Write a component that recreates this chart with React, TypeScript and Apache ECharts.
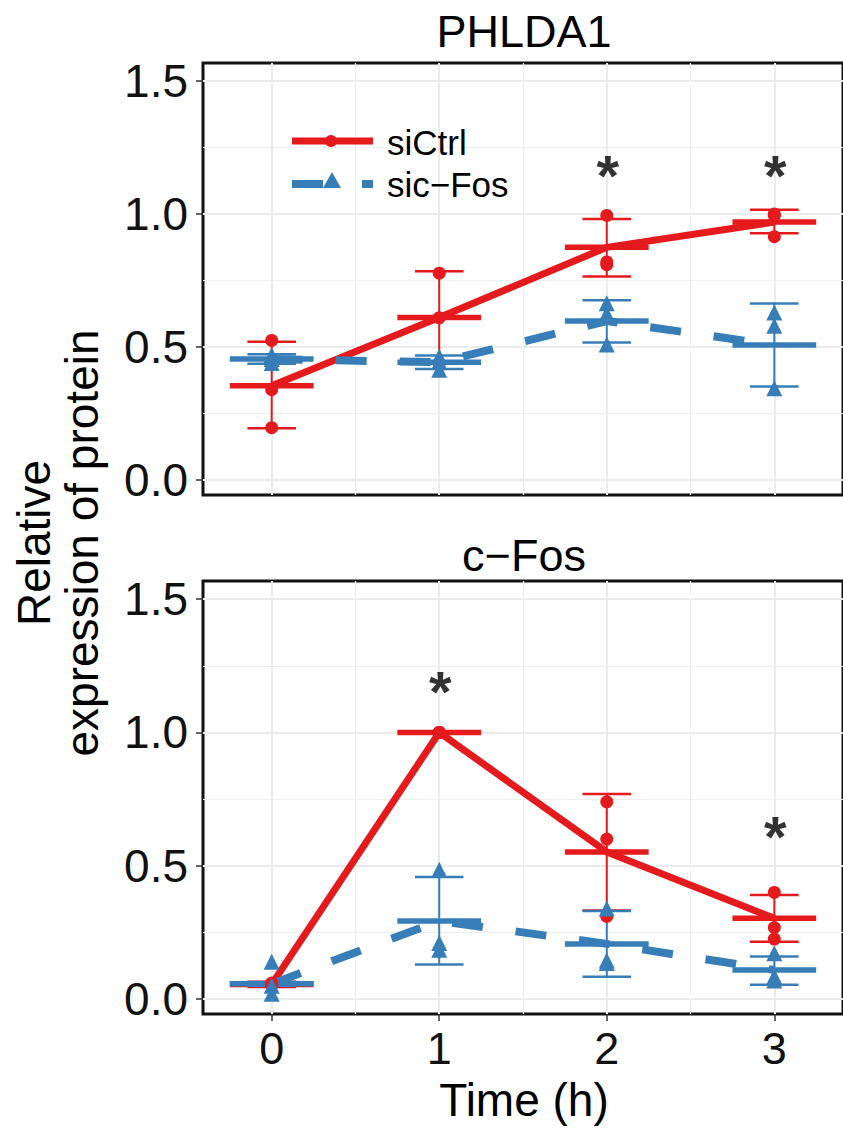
import React, { useEffect, useRef } from 'react';
import * as echarts from 'echarts';

// ---------- data ----------
const times = [0, 1, 2, 3];
const panelTitles = ['PHLDA1', 'c−Fos'];
const seriesNames = ['siCtrl', 'sic−Fos'];
const yTickValues = [0, 0.5, 1, 1.5];
const yMinorValues = [0.25, 0.75, 1.25];
const xTickValues = [0, 1, 2, 3];
const xMinorValues = [0.5, 1.5, 2.5];

// PHLDA1 panel
const phlSiCtrlPoints = [[0.525, 0.34, 0.197], [0.778, 0.61, 0.44], [0.995, 0.81, 0.82], [0.995, 0.915, 1.0]];
const phlSiCtrlMean = [0.355, 0.611, 0.875, 0.97];
const phlSiCtrlLow = [0.195, 0.437, 0.765, 0.928];
const phlSiCtrlHigh = [0.52, 0.785, 0.982, 1.016];
const phlSicFosPoints = [[0.47, 0.455, 0.44], [0.465, 0.445, 0.415], [0.665, 0.625, 0.51], [0.63, 0.58, 0.345]];
const phlSicFosMean = [0.455, 0.443, 0.598, 0.508];
const phlSicFosLow = [0.437, 0.418, 0.517, 0.352];
const phlSicFosHigh = [0.473, 0.468, 0.676, 0.664];
const phlStars = [[2, 1.177], [3, 1.177]];

// c-Fos panel
const fosSiCtrlPoints = [[0.06, 0.05, 0.055], [1, 1, 1], [0.74, 0.6, 0.31], [0.4, 0.268, 0.225]];
const fosSiCtrlMean = [0.055, 1.0, 0.552, 0.303];
const fosSiCtrlLow = [0.045, 1.0, 0.332, 0.215];
const fosSiCtrlHigh = [0.065, 1.0, 0.769, 0.39];
const fosSicFosPoints = [[0.14, 0.05, 0.02], [0.485, 0.21, 0.185], [0.34, 0.145, 0.135], [0.172, 0.085, 0.07]];
const fosSicFosMean = [0.057, 0.293, 0.207, 0.109];
const fosSicFosLow = [0.05, 0.13, 0.084, 0.054];
const fosSicFosHigh = [0.064, 0.458, 0.33, 0.16];
const fosStars = [[1, 1.184], [3, 0.639]];

// ---------- style ----------
const RED = '#E41A1C';
const BLUE = '#377EB8';
const FONT = '"Liberation Sans", Arial, Helvetica, sans-serif';
const X_MIN = -0.41;
const X_MAX = 3.41;
const Y_MIN = -0.056;
const Y_MAX = 1.568;
const CAP_HALF = 0.145;
const BAR_HALF = 0.25;

type Group = { points: number[][]; mean: number[]; low: number[]; high: number[] };

const panels: { ctrl: Group; fos: Group; stars: number[][] }[] = [
  {
    ctrl: { points: phlSiCtrlPoints, mean: phlSiCtrlMean, low: phlSiCtrlLow, high: phlSiCtrlHigh },
    fos: { points: phlSicFosPoints, mean: phlSicFosMean, low: phlSicFosLow, high: phlSicFosHigh },
    stars: phlStars,
  },
  {
    ctrl: { points: fosSiCtrlPoints, mean: fosSiCtrlMean, low: fosSiCtrlLow, high: fosSiCtrlHigh },
    fos: { points: fosSicFosPoints, mean: fosSicFosMean, low: fosSicFosLow, high: fosSicFosHigh },
    stars: fosStars,
  },
];

function errSeries(g: Group, color: string, xi: number, yi: number, name: string) {
  return {
    type: 'custom',
    name,
    xAxisIndex: xi,
    yAxisIndex: yi,
    z: 2,
    data: times.map((t, i) => [t, g.low[i], g.high[i], g.mean[i]]),
    renderItem: (params: any, api: any) => {
      const x = api.value(0);
      const lo = api.value(1);
      const hi = api.value(2);
      const m = api.value(3);
      const pLo = api.coord([x, lo]);
      const pHi = api.coord([x, hi]);
      const pM = api.coord([x, m]);
      const cL = api.coord([x - CAP_HALF, lo])[0];
      const cR = api.coord([x + CAP_HALF, lo])[0];
      const bL = api.coord([x - BAR_HALF, m])[0];
      const bR = api.coord([x + BAR_HALF, m])[0];
      const thin = { stroke: color, lineWidth: 2 };
      const cap = { stroke: color, lineWidth: 2.5 };
      return {
        type: 'group',
        children: [
          { type: 'line', shape: { x1: pLo[0], y1: pLo[1], x2: pHi[0], y2: pHi[1] }, style: thin },
          { type: 'line', shape: { x1: cL, y1: pLo[1], x2: cR, y2: pLo[1] }, style: cap },
          { type: 'line', shape: { x1: cL, y1: pHi[1], x2: cR, y2: pHi[1] }, style: cap },
          { type: 'line', shape: { x1: bL, y1: pM[1], x2: bR, y2: pM[1] }, style: { stroke: color, lineWidth: 5.5 } },
        ],
      };
    },
  };
}

function lineSeries(g: Group, color: string, dashed: boolean, xi: number, yi: number, name: string) {
  return {
    type: 'line',
    name,
    xAxisIndex: xi,
    yAxisIndex: yi,
    z: 3,
    symbol: 'none',
    data: times.map((t, i) => [t, g.mean[i]]),
    lineStyle: dashed
      ? { color, width: 8, type: [31, 33], join: 'round' }
      : { color, width: 7, join: 'round' },
  };
}

function pointSeries(g: Group, color: string, symbol: string, size: number, xi: number, yi: number, name: string) {
  const data: number[][] = [];
  times.forEach((t, i) => g.points[i].forEach((v) => data.push([t, v])));
  return {
    type: 'scatter',
    name,
    xAxisIndex: xi,
    yAxisIndex: yi,
    z: 4,
    symbol,
    symbolSize: size,
    itemStyle: { color, opacity: 1 },
    data,
  };
}

function starSeries(stars: number[][], xi: number, yi: number) {
  return {
    type: 'scatter',
    xAxisIndex: xi,
    yAxisIndex: yi,
    z: 5,
    symbolSize: 1,
    itemStyle: { color: 'rgba(0,0,0,0)' },
    label: {
      show: true,
      position: 'inside',
      formatter: '*',
      fontSize: 58,
      fontWeight: 'bold',
      color: '#000',
      fontFamily: FONT,
      offset: [1, 8],
    },
    data: stars,
  };
}

function xAxesFor(gridIndex: number, showLabels: boolean) {
  return [
    {
      type: 'value',
      gridIndex,
      min: X_MIN,
      max: X_MAX,
      position: 'bottom',
      axisLine: { show: false, onZero: false },
      axisTick: { show: showLabels, customValues: xTickValues, length: 7, lineStyle: { color: '#333', width: 1.5 } },
      axisLabel: {
        show: showLabels,
        customValues: xTickValues,
        margin: 12,
        fontSize: 45,
        color: '#111',
        fontFamily: FONT,
        formatter: (v: number) => String(v),
      },
      splitLine: { show: true, lineStyle: { color: '#EBEBEB', width: 2 } },
    },
    {
      type: 'value',
      gridIndex,
      min: X_MIN,
      max: X_MAX,
      position: 'bottom',
      axisLine: { show: false, onZero: false },
      axisTick: { show: false, customValues: xMinorValues },
      axisLabel: { show: false, customValues: xMinorValues },
      splitLine: { show: true, lineStyle: { color: '#EFEFEF', width: 1.2 } },
    },
  ];
}

function yAxesFor(gridIndex: number) {
  return [
    {
      type: 'value',
      gridIndex,
      min: Y_MIN,
      max: Y_MAX,
      position: 'left',
      axisLine: { show: false, onZero: false },
      axisTick: { show: true, customValues: yTickValues, length: 7, lineStyle: { color: '#333', width: 1.5 } },
      axisLabel: {
        show: true,
        customValues: yTickValues,
        margin: 15,
        fontSize: 46,
        color: '#111',
        fontFamily: FONT,
        formatter: (v: number) => v.toFixed(1),
      },
      splitLine: { show: true, lineStyle: { color: '#EBEBEB', width: 2 } },
    },
    {
      type: 'value',
      gridIndex,
      min: Y_MIN,
      max: Y_MAX,
      position: 'left',
      axisLine: { show: false, onZero: false },
      axisTick: { show: false, customValues: yMinorValues },
      axisLabel: { show: false, customValues: yMinorValues },
      splitLine: { show: true, lineStyle: { color: '#EFEFEF', width: 1.2 } },
    },
  ];
}

export default function App() {
  const ref = useRef<HTMLDivElement>(null);

  useEffect(() => {
    if (!ref.current) return;
    const chart = echarts.init(ref.current, null, { renderer: 'svg' });

    const gridBase = { left: 203, right: -6, show: true, borderColor: '#111', borderWidth: 3, backgroundColor: 'transparent' };
    const grids = [
      { ...gridBase, top: 63, height: 432 },
      { ...gridBase, top: 581, height: 433 },
    ];

    const xAxis = [...xAxesFor(0, false), ...xAxesFor(1, true)];
    const yAxis = [...yAxesFor(0), ...yAxesFor(1)];

    const series: any[] = [];
    panels.forEach((p, k) => {
      const xi = k * 2;
      const yi = k * 2;
      series.push(errSeries(p.ctrl, RED, xi, yi, seriesNames[0]));
      series.push(errSeries(p.fos, BLUE, xi, yi, seriesNames[1]));
      series.push(lineSeries(p.ctrl, RED, false, xi, yi, seriesNames[0]));
      series.push(lineSeries(p.fos, BLUE, true, xi, yi, seriesNames[1]));
      series.push(pointSeries(p.ctrl, RED, 'circle', 13, xi, yi, seriesNames[0]));
      series.push(pointSeries(p.fos, BLUE, 'triangle', 16, xi, yi, seriesNames[1]));
      series.push(starSeries(p.stars, xi, yi));
    });

    const textStyle = (text: string, size: number) => ({
      text,
      fill: '#000',
      font: `${size}px ${FONT}`,
      textAlign: 'center',
      textVerticalAlign: 'middle',
    });

    const graphic: any[] = [
      { type: 'text', x: 524, y: 31, style: textStyle(panelTitles[0], 45) },
      { type: 'text', x: 524, y: 555, style: textStyle(panelTitles[1], 45) },
      { type: 'text', x: 524, y: 1100, style: textStyle('Time (h)', 46) },
      { type: 'text', x: 34, y: 543, rotation: Math.PI / 2, style: textStyle('Relative', 46) },
      { type: 'text', x: 82, y: 543, rotation: Math.PI / 2, style: textStyle('expression of protein', 46) },
      // legend
      { type: 'line', shape: { x1: 292, y1: 141, x2: 373, y2: 141 }, style: { stroke: RED, lineWidth: 7 }, z: 10 },
      { type: 'circle', shape: { cx: 331, cy: 141, r: 6 }, style: { fill: RED }, z: 11 },
      { type: 'text', x: 387, y: 142, style: { text: seriesNames[0], fill: '#000', font: `35px ${FONT}`, textAlign: 'left', textVerticalAlign: 'middle' }, z: 10 },
      { type: 'line', shape: { x1: 292, y1: 184, x2: 373, y2: 184 }, style: { stroke: BLUE, lineWidth: 8, lineDash: [31, 39] }, z: 10 },
      { type: 'polygon', shape: { points: [[332, 172], [341, 188], [323, 188]] }, style: { fill: BLUE }, z: 11 },
      { type: 'text', x: 387, y: 184, style: { text: seriesNames[1], fill: '#000', font: `35px ${FONT}`, textAlign: 'left', textVerticalAlign: 'middle' }, z: 10 },
    ];

    chart.setOption({
      animation: false,
      backgroundColor: '#fff',
      grid: grids,
      xAxis,
      yAxis,
      series,
      graphic,
    });

    return () => chart.dispose();
  }, []);

  return <div ref={ref} style={{ position: 'fixed', left: 0, top: 0, width: 843, height: 1128 }} />;
}
